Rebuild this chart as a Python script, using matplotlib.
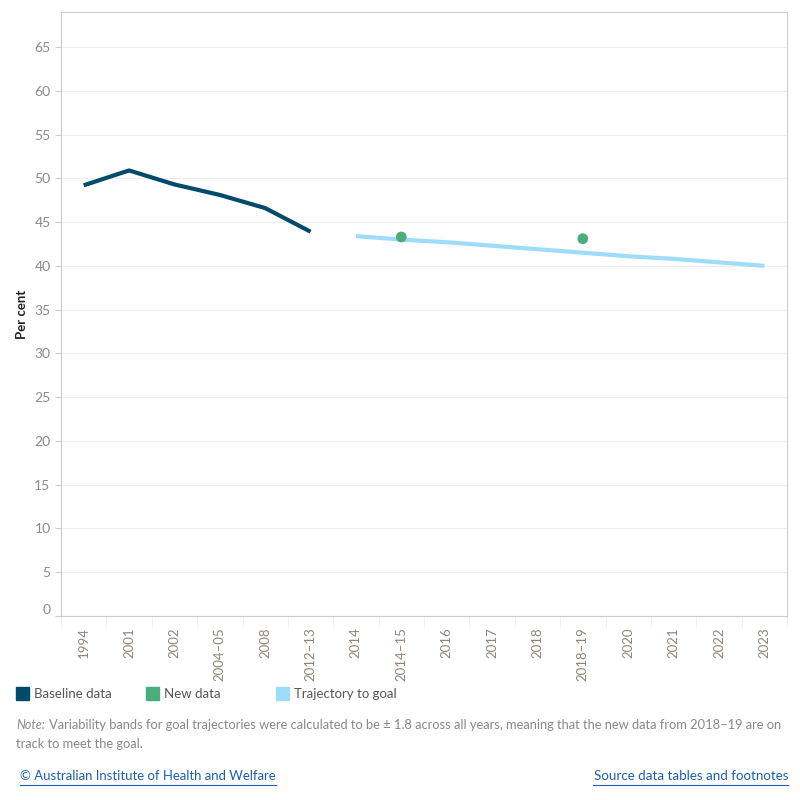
import matplotlib.pyplot as plt
import numpy as np

plt.rcParams['font.family'] = ['Lato', 'DejaVu Sans']

categories = ['1994', '2001', '2002', '2004–05', '2008', '2012–13', '2014', '2014–15',
              '2016', '2017', '2018', '2018–19', '2020', '2021', '2022', '2023']

baseline_cats = ['1994', '2001', '2002', '2004–05', '2008', '2012–13']
baseline_vals = [49.2, 50.9, 49.3, 48.1, 46.6, 43.9]

new_cats = ['2014–15', '2018–19']
new_vals = [43.3, 43.1]

traj_cats = ['2014', '2014–15', '2016', '2017', '2018', '2018–19', '2020', '2021', '2022', '2023']
traj_vals = [43.4, 43.0, 42.7, 42.3, 41.9, 41.5, 41.1, 40.8, 40.4, 40.0]

c_base = '#004B6C'
c_new = '#4AAD7B'
c_traj = '#9EDDF9'

pos = {c: i for i, c in enumerate(categories)}

fig = plt.figure(figsize=(8, 8), dpi=100)
ax = fig.add_axes([0.07625, 0.23, 0.9075, 0.755])

ax.plot([pos[c] for c in baseline_cats], baseline_vals, color=c_base, lw=3, solid_capstyle='butt', zorder=3)
ax.plot([pos[c] for c in traj_cats], traj_vals, color=c_traj, lw=3, solid_capstyle='butt', zorder=3)
ax.scatter([pos[c] for c in new_cats], new_vals, color=c_new, s=60, zorder=4, edgecolors='none')

ax.set_xlim(-0.5, len(categories) - 0.5)
ax.set_ylim(0, 69)
ax.set_yticks(range(0, 70, 5))
ax.set_xticks(range(len(categories)))
ax.set_xticklabels(categories, rotation=90, fontsize=9.5, color='#8f8478')
ax.tick_params(axis='y', labelsize=10, labelcolor='#8a8a8a', length=4, color='#cccccc')
ax.tick_params(axis='x', length=0, pad=8)
ax.set_xticks(np.arange(-0.5, len(categories), 1), minor=True)
ax.tick_params(axis='x', which='minor', length=8, color='#eeeeee')
ax.grid(axis='y', color='#eeeeee', lw=0.8)
ax.set_axisbelow(True)
for s in ax.spines.values():
    s.set_color('#cccccc')
ax.set_ylabel('Per cent', fontsize=9.5, fontweight='bold', color='#222222')
ax.yaxis.set_label_coords(-0.045, 0.5)
ax.get_yticklabels()[0].set_va('bottom')

fig.canvas.draw()
renderer = fig.canvas.get_renderer()


def fit(t, width):
    # shrink/grow font so the text spans the given pixel width
    w = t.get_window_extent(renderer).width
    t.set_fontsize(t.get_fontsize() * width / w)


# legend
items = [('Baseline data', c_base, 16), ('New data', c_new, 146), ('Trajectory to goal', c_traj, 276)]
for label, col, x in items:
    fig.patches.append(plt.Rectangle((x / 800, 1 - 700 / 800), 13 / 800, 13 / 800,
                                     transform=fig.transFigure, color=col))
    fig.text((x + 18) / 800, 1 - 694 / 800, label, fontsize=9.5, color='#555555', va='center')

n1 = fig.text(16 / 800, 1 - 725 / 800, 'Note:', fontsize=9, style='italic', color='#888888', va='center')
n2 = fig.text(49 / 800, 1 - 725 / 800,
              'Variability bands for goal trajectories were calculated to be ± 1.8 across all years, meaning that the new data from 2018–19 are on',
              fontsize=9, color='#888888', va='center')
fit(n1, 29)
fit(n2, 737)
n3 = fig.text(16 / 800, 1 - 744 / 800, 'track to meet the goal.', fontsize=n2.get_fontsize(),
              color='#888888', va='center')

link = '#1a5fb4'
t1 = fig.text(20 / 800, 1 - 776 / 800, '© Australian Institute of Health and Welfare',
              fontsize=10, color=link, va='center')
t2 = fig.text(788 / 800, 1 - 776 / 800, 'Source data tables and footnotes',
              fontsize=10, color=link, va='center', ha='right')
fit(t1, 256)
fit(t2, 195)
fig.add_artist(plt.Line2D([20 / 800, 276 / 800], [1 - 785 / 800] * 2, color=link, lw=0.8))
fig.add_artist(plt.Line2D([593 / 800, 788 / 800], [1 - 785 / 800] * 2, color=link, lw=0.8))

fig.savefig('out.png', dpi=100)
